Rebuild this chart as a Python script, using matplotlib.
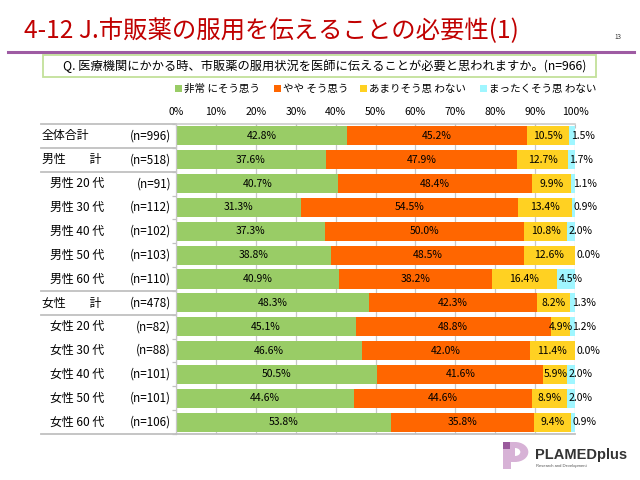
import matplotlib
matplotlib.use("Agg")
import matplotlib.pyplot as plt
from matplotlib.patches import Rectangle, Wedge
from matplotlib.lines import Line2D
import matplotlib.transforms as mtransforms
import numpy as np

plt.rcParams['font.family'] = ['Noto Sans CJK JP', 'DejaVu Sans']

# data
rows = ["全体合計", "男性　　計", "男性 20 代", "男性 30 代", "男性 40 代", "男性 50 代", "男性 60 代",
        "女性　　計", "女性 20 代", "女性 30 代", "女性 40 代", "女性 50 代", "女性 60 代"]
counts = ["(n=996)", "(n=518)", "(n=91)", "(n=112)", "(n=102)", "(n=103)", "(n=110)",
          "(n=478)", "(n=82)", "(n=88)", "(n=101)", "(n=101)", "(n=106)"]
very = [42.8, 37.6, 40.7, 31.3, 37.3, 38.8, 40.9, 48.3, 45.1, 46.6, 50.5, 44.6, 53.8]
somewhat = [45.2, 47.9, 48.4, 54.5, 50.0, 48.5, 38.2, 42.3, 48.8, 42.0, 41.6, 44.6, 35.8]
not_much = [10.5, 12.7, 9.9, 13.4, 10.8, 12.6, 16.4, 8.2, 4.9, 11.4, 5.9, 8.9, 9.4]
not_at_all = [1.5, 1.7, 1.1, 0.9, 2.0, 0.0, 4.5, 1.3, 1.2, 0.0, 2.0, 2.0, 0.9]
series_names = ["非常 にそう思う", "やや そう思う", "あまりそう思 わない", "まったくそう思 わない"]
colors = ["#99CC66", "#FF6600", "#FFD122", "#A0F6FF"]

W, H = 640, 480
fig = plt.figure(figsize=(6.4, 4.8), dpi=100)


def fx(x):
    return x / W


def fy(y):
    return 1 - y / H


# header
fig.text(fx(24), fy(31), "4-12 J.市販薬の服用を伝えることの必要性(1)", color="#C00000",
         fontsize=17.6, va="center", ha="left")
fig.text(fx(618), fy(37), "13", fontsize=4.5, va="center", ha="center", color="#333333")
fig.add_artist(Line2D([fx(8), fx(634)], [fy(52), fy(52)], color="#9E5BA3", lw=2.2))

# question box
fig.add_artist(Rectangle((fx(43), fy(77)), fx(596 - 43), (77 - 55) / H,
                         facecolor="white", edgecolor="#C3E09A", lw=1.3))
fig.text(fx(63), fy(66.5), "Q. 医療機関にかかる時、市販薬の服用状況を医師に伝えることが必要と思われますか。(n=966)",
         fontsize=8.8, va="center", ha="left")

# legend
leg_x = [175, 274, 360, 480]
for lx, name, c in zip(leg_x, series_names, colors):
    fig.add_artist(Rectangle((fx(lx), fy(92)), fx(7), 7 / H, facecolor=c, edgecolor="none"))
    fig.text(fx(lx + 9), fy(88.5), name, fontsize=7.6, va="center", ha="left")

# chart
ax = fig.add_axes([fx(176), fy(434), fx(575 - 176), (434 - 124) / H])
y = np.arange(len(rows))
left = np.zeros(len(rows))
for vals, c in zip([very, somewhat, not_much, not_at_all], colors):
    ax.barh(y, vals, left=left, color=c, height=0.8, zorder=2)
    left = left + np.array(vals)

# value labels
left = np.zeros(len(rows))
for k, vals in enumerate([very, somewhat, not_much, not_at_all]):
    for i, v in enumerate(vals):
        if k < 3:
            ax.text(left[i] + v / 2, y[i], f"{v:.1f}%", ha="center", va="center", fontsize=7.5, zorder=3)
        else:
            ax.text(left[i] + 0.4, y[i], f"{v:.1f}%", ha="left", va="center", fontsize=7.5,
                    zorder=3, clip_on=False)
    left = left + np.array(vals)

ax.set_xlim(0, 100)
ax.set_ylim(len(rows) - 0.5, -0.5)
ax.set_xticks(np.arange(0, 101, 10))
ax.set_xticklabels([f"{t}%" for t in range(0, 101, 10)], fontsize=7.5)
ax.xaxis.tick_top()
ax.tick_params(axis="x", length=3, direction="in", color="#C0C0C0", pad=5)
ax.grid(axis="x", color="#C8C8C8", lw=0.9, zorder=0)
ax.set_yticks(np.arange(-0.5, len(rows), 1))
ax.set_yticklabels([])
ax.tick_params(axis="y", length=3, color="#C0C0C0", width=0.9)
ax.spines["right"].set_visible(False)
ax.spines["left"].set_color("#C8C8C8")
ax.spines["top"].set_color("#C8C8C8")
ax.spines["bottom"].set_color("#C0C0C0")
ax.spines["bottom"].set_linewidth(1.3)
ax.spines["top"].set_linewidth(1.1)
ax.spines["left"].set_linewidth(0.9)

# row labels on the left
trans = mtransforms.blended_transform_factory(fig.transFigure, ax.transData)
for i, (r, n) in enumerate(zip(rows, counts)):
    indent = 42 if "計" in r else 50
    ax.text(fx(indent), i, r, transform=trans, ha="left", va="center", fontsize=8.6)
    ax.text(fx(171), i, n, transform=trans, ha="right", va="center", fontsize=8.4)

for b in [-0.5, 0.5, 1.5, 6.5, 7.5, 12.5]:
    ax.add_line(Line2D([fx(41), fx(176)], [b, b], transform=trans, color="#C0C0C0",
                       lw=1.3, clip_on=False))

# logo
fig.add_artist(Rectangle((fx(503), fy(469)), fx(8), 27 / H, facecolor="#D7B2D6", edgecolor="none"))
fig.add_artist(Rectangle((fx(503), fy(449)), fx(7), 7 / H, facecolor="#9A5A9C", edgecolor="none"))
fig.add_artist(Rectangle((fx(511), fy(462)), fx(4), 20 / H, facecolor="#D7B2D6", edgecolor="none"))
fig.add_artist(Wedge((fx(515), fy(452)), 10 / H, -90, 90, facecolor="#D7B2D6", edgecolor="none",
                     transform=fig.transFigure))
fig.add_artist(Wedge((fx(515), fy(452)), 4 / H, -90, 90, facecolor="white", edgecolor="none",
                     transform=fig.transFigure))
fig.text(fx(535), fy(455), "PLAMEDplus", fontsize=10.5, fontweight="bold", color="#333333",
         va="center", ha="left", family="Liberation Sans")
fig.text(fx(536), fy(466), "Research and Development", fontsize=3, color="#555555",
         va="center", ha="left", family="Liberation Sans")

plt.savefig("out.png", dpi=100)
plt.close()
